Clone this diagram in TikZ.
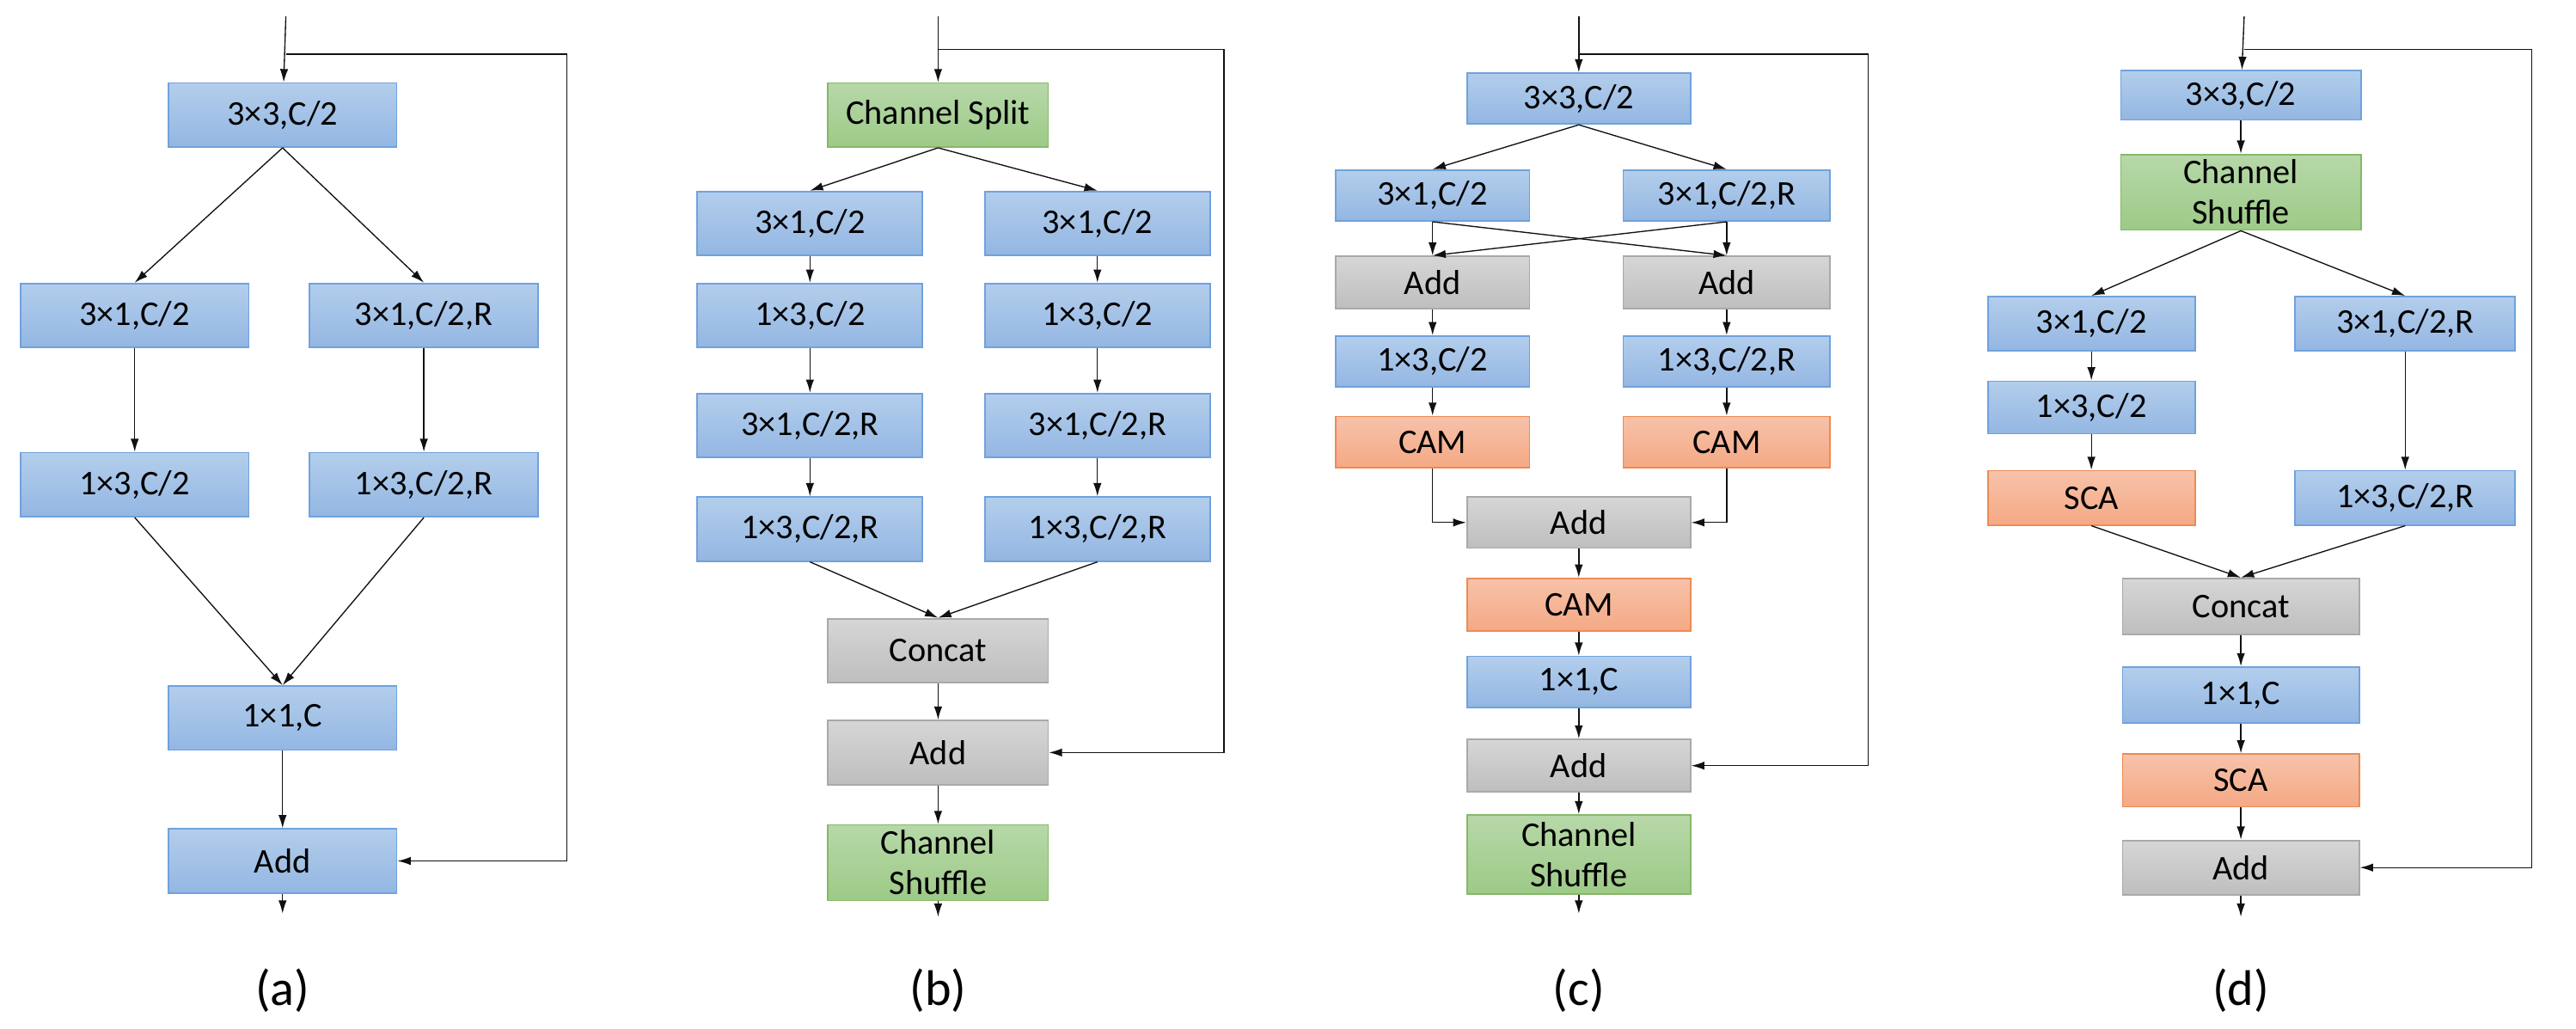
\documentclass[tikz,border=0pt]{standalone}
\usepackage{fontspec}
\setmainfont{Carlito}
\usepackage{xcolor}
\definecolor{lineDark}{HTML}{111111}
\definecolor{blueTop}{HTML}{B3CEEC}
\definecolor{blueBot}{HTML}{93B6E2}
\definecolor{blueEdge}{HTML}{6FA2DD}
\definecolor{grayTop}{HTML}{D6D6D6}
\definecolor{grayBot}{HTML}{BEBEBE}
\definecolor{grayEdge}{HTML}{A9A9A9}
\definecolor{greenTop}{HTML}{B7D8A9}
\definecolor{greenBot}{HTML}{9DCA87}
\definecolor{greenEdge}{HTML}{86B866}
\definecolor{orangeTop}{HTML}{F7C2AA}
\definecolor{orangeBot}{HTML}{F4A984}
\definecolor{orangeEdge}{HTML}{EE8A55}
\usepackage{tikz}
\usetikzlibrary{positioning,calc,arrows.meta}
\tikzset{
  baseBox/.style={
    rectangle,
    line width=0.8pt,
    minimum width=4.17cm,
    minimum height=1.17cm,
    inner sep=0pt,
    align=center,
    font=\fontsize{18}{21}\selectfont
 },
  blueBox/.style={baseBox, draw=blueEdge, top color=blueTop, bottom color=blueBot},
  grayBox/.style={baseBox, draw=grayEdge, top color=grayTop, bottom color=grayBot},
  greenBox/.style={baseBox, draw=greenEdge, top color=greenTop, bottom color=greenBot},
  orangeBox/.style={baseBox, draw=orangeEdge, top color=orangeTop, bottom color=orangeBot},
  arrowLine/.style={
    -{Latex[length=2.4mm,width=1.5mm]},
    line width=0.6pt,
    color=lineDark
 },
  plainLine/.style={line width=0.6pt, color=lineDark},
  capLabel/.style={font=\fontsize{26}{30}\selectfont}
}

\begin{document}
\begin{tikzpicture}[x=0.03cm,y=-0.03cm]
            \useasboundingbox (0,0) rectangle (1568,626);

            % (a)
            \coordinate (aIn) at (174,10);
            \node[blueBox] (a33) at (172,70) {3×3,C/2};
            \node[blueBox] (a31l) at (82,192) {3×1,C/2};
            \node[blueBox] (a31r) at (258,192) {3×1,C/2,R};
            \node[blueBox] (a13l) at (82,295) {1×3,C/2};
            \node[blueBox] (a13r) at (258,295) {1×3,C/2,R};
            \node[blueBox] (a11) at (172,437) {1×1,C};
            \node[blueBox] (aAdd) at (172,524) {Add};
            \coordinate (aOut) at (172,556);
            \coordinate (aTurn) at (345,33);
            \node[capLabel] (aCap) at (172,603) {(a)};

            \draw[arrowLine] (aIn) -- (a33);
            \draw[arrowLine] (a33.south) -- (a31l.north);
            \draw[arrowLine] (a33.south) -- (a31r.north);
            \draw[arrowLine] (a31l) -- (a13l);
            \draw[arrowLine] (a31r) -- (a13r);
            \draw[arrowLine] (a13l.south) -- (a11.north);
            \draw[arrowLine] (a13r.south) -- (a11.north);
            \draw[arrowLine] (a11) -- (aAdd);
            \draw[arrowLine] (aAdd) -- (aOut);
            \draw[arrowLine] (aIn |- aTurn) -- (aTurn) |- (aAdd.east);

            % (b)
            \coordinate (bIn) at (571,10);
            \node[greenBox, minimum width=4.02cm] (bSplit) at (571,70) {Channel Split};
            \foreach \nm/\xx in {l/493, r/668} {
              \node[blueBox, minimum width=4.11cm] (b31\nm) at (\xx,136) {3×1,C/2};
              \node[blueBox, minimum width=4.11cm] (b13\nm) at (\xx,192) {1×3,C/2};
              \node[blueBox, minimum width=4.11cm] (b31R\nm) at (\xx,259) {3×1,C/2,R};
              \node[blueBox, minimum width=4.11cm] (b13R\nm) at (\xx,322) {1×3,C/2,R};
            }
            \node[grayBox, minimum width=4.02cm] (bConcat) at (571,396) {Concat};
            \node[grayBox, minimum width=4.02cm] (bAdd) at (571,458) {Add};
            \node[greenBox, minimum width=4.02cm, minimum height=1.38cm] (bShuffle) at (571,525) {Channel\\Shuffle};
            \coordinate (bOut) at (571,558);
            \coordinate (bTurn) at (745,30);
            \node[capLabel] (bCap) at (571,603) {(b)};

            \draw[arrowLine] (bIn) -- (bSplit);
            \foreach \nm in {l,r} {
              \draw[arrowLine] (bSplit.south) -- (b31\nm.north);
              \draw[arrowLine] (b31\nm) -- (b13\nm);
              \draw[arrowLine] (b13\nm) -- (b31R\nm);
              \draw[arrowLine] (b31R\nm) -- (b13R\nm);
              \draw[arrowLine] (b13R\nm.south) -- (bConcat.north);
            }
            \draw[arrowLine] (bConcat) -- (bAdd);
            \draw[arrowLine] (bAdd) -- (bShuffle);
            \draw[arrowLine] (bShuffle) -- (bOut);
            \draw[arrowLine] (bIn |- bTurn) -- (bTurn) |- (bAdd.east);

            % (c)
            \coordinate (cIn) at (961,10);
            \node[blueBox, minimum width=4.08cm, minimum height=0.93cm] (c33) at (961,60) {3×3,C/2};
            \node[blueBox, minimum width=3.54cm, minimum height=0.93cm] (c31l) at (872,119) {3×1,C/2};
            \node[blueBox, minimum width=3.78cm, minimum height=0.93cm] (c31r) at (1051,119) {3×1,C/2,R};
            \node[grayBox, minimum width=3.54cm, minimum height=0.96cm] (cAddl) at (872,172) {Add};
            \node[grayBox, minimum width=3.78cm, minimum height=0.96cm] (cAddr) at (1051,172) {Add};
            \node[blueBox, minimum width=3.54cm, minimum height=0.93cm] (c13l) at (872,220) {1×3,C/2};
            \node[blueBox, minimum width=3.78cm, minimum height=0.93cm] (c13r) at (1051,220) {1×3,C/2,R};
            \node[orangeBox, minimum width=3.54cm, minimum height=0.93cm] (cCAMl) at (872,269) {CAM};
            \node[orangeBox, minimum width=3.78cm, minimum height=0.93cm] (cCAMr) at (1051,269) {CAM};
            \node[grayBox, minimum width=4.08cm, minimum height=0.93cm] (cAddm) at (961,318) {Add};
            \node[orangeBox, minimum width=4.08cm, minimum height=0.96cm] (cCAM) at (961,368) {CAM};
            \node[blueBox, minimum width=4.08cm, minimum height=0.93cm] (c11) at (961,415) {1×1,C};
            \node[grayBox, minimum width=4.08cm, minimum height=0.96cm] (cAdd) at (961,466) {Add};
            \node[greenBox, minimum width=4.08cm, minimum height=1.44cm] (cShuffle) at (961,520) {Channel\\Shuffle};
            \coordinate (cOut) at (961,556);
            \coordinate (cTurn) at (1137,33);
            \node[capLabel] (cCap) at (961,603) {(c)};

            \draw[arrowLine] (cIn) -- (c33);
            \draw[arrowLine] (c33.south) -- (c31l.north);
            \draw[arrowLine] (c33.south) -- (c31r.north);
            \draw[arrowLine] (c31l.south) -- (cAddl.north);
            \draw[arrowLine] (c31l.south) -- (cAddr.north);
            \draw[arrowLine] (c31r.south) -- (cAddr.north);
            \draw[arrowLine] (c31r.south) -- (cAddl.north);
            \draw[arrowLine] (cAddl) -- (c13l);
            \draw[arrowLine] (cAddr) -- (c13r);
            \draw[arrowLine] (c13l) -- (cCAMl);
            \draw[arrowLine] (c13r) -- (cCAMr);
            \draw[arrowLine] (cCAMl.south) |- (cAddm.west);
            \draw[arrowLine] (cCAMr.south) |- (cAddm.east);
            \draw[arrowLine] (cAddm) -- (cCAM);
            \draw[arrowLine] (cCAM) -- (c11);
            \draw[arrowLine] (c11) -- (cAdd);
            \draw[arrowLine] (cAdd) -- (cShuffle);
            \draw[arrowLine] (cShuffle) -- (cOut);
            \draw[arrowLine] (cIn |- cTurn) -- (cTurn) |- (cAdd.east);

            % (d)
            \coordinate (dIn) at (1366,10);
            \node[blueBox, minimum width=4.38cm, minimum height=0.9cm] (d33) at (1364,58) {3×3,C/2};
            \node[greenBox, minimum width=4.38cm, minimum height=1.38cm] (dShuffle) at (1364,117) {Channel\\Shuffle};
            \node[blueBox, minimum width=3.78cm, minimum height=0.99cm] (d31l) at (1273,197) {3×1,C/2};
            \node[blueBox, minimum width=4.02cm, minimum height=0.99cm] (d31r) at (1464,197) {3×1,C/2,R};
            \node[blueBox, minimum width=3.78cm, minimum height=0.96cm] (d13l) at (1273,248) {1×3,C/2};
            \node[orangeBox, minimum width=3.78cm, minimum height=0.99cm] (dSCAl) at (1273,303) {SCA};
            \node[blueBox, minimum width=4.02cm, minimum height=0.99cm] (d13r) at (1464,303) {1×3,C/2,R};
            \node[grayBox, minimum width=4.32cm, minimum height=1.02cm] (dConcat) at (1364,369) {Concat};
            \node[blueBox, minimum width=4.32cm, minimum height=1.02cm] (d11) at (1364,423) {1×1,C};
            \node[orangeBox, minimum width=4.32cm, minimum height=0.96cm] (dSCA) at (1364,475) {SCA};
            \node[grayBox, minimum width=4.32cm, minimum height=0.99cm] (dAdd) at (1364,528) {Add};
            \coordinate (dOut) at (1364,558);
            \coordinate (dTurn) at (1541,30);
            \node[capLabel] (dCap) at (1364,603) {(d)};

            \draw[arrowLine] (dIn) -- (d33);
            \draw[arrowLine] (d33) -- (dShuffle);
            \draw[arrowLine] (dShuffle.south) -- (d31l.north);
            \draw[arrowLine] (dShuffle.south) -- (d31r.north);
            \draw[arrowLine] (d31l) -- (d13l);
            \draw[arrowLine] (d13l) -- (dSCAl);
            \draw[arrowLine] (d31r) -- (d13r);
            \draw[arrowLine] (dSCAl.south) -- (dConcat.north);
            \draw[arrowLine] (d13r.south) -- (dConcat.north);
            \draw[arrowLine] (dConcat) -- (d11);
            \draw[arrowLine] (d11) -- (dSCA);
            \draw[arrowLine] (dSCA) -- (dAdd);
            \draw[arrowLine] (dAdd) -- (dOut);
            \draw[arrowLine] (dIn |- dTurn) -- (dTurn) |- (dAdd.east);

        \end{tikzpicture}
\end{document}
